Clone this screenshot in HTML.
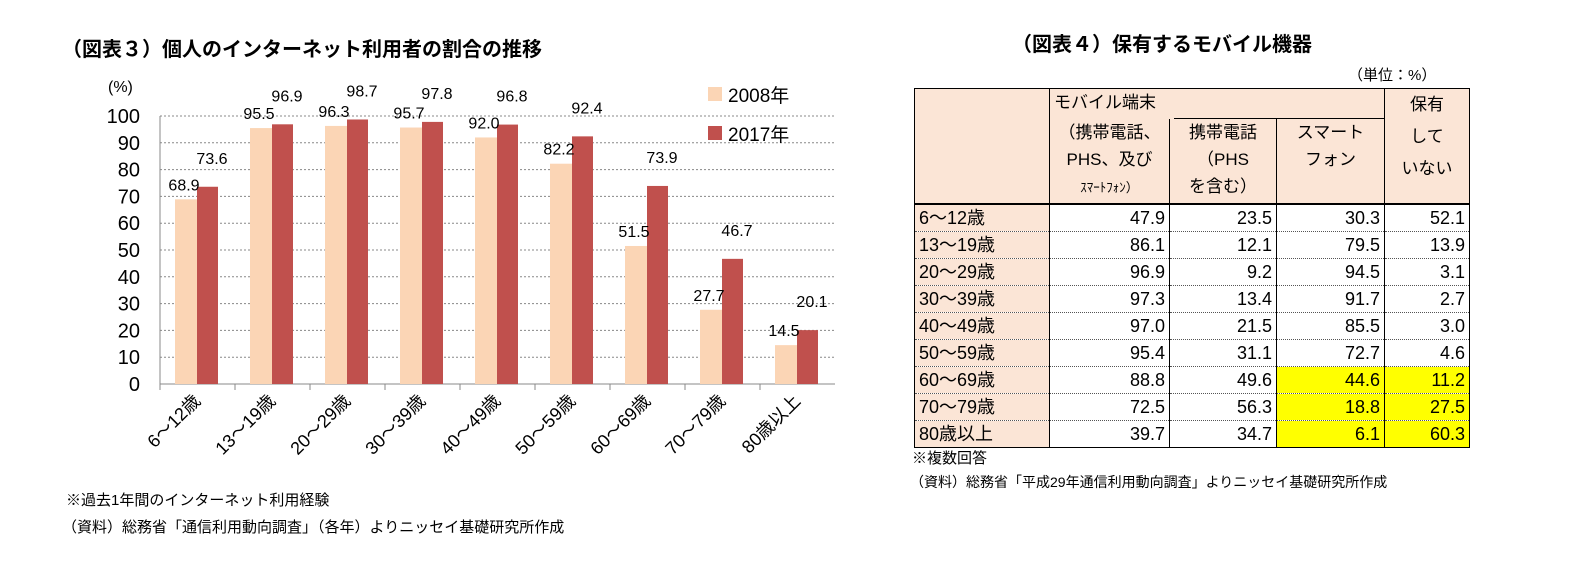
<!DOCTYPE html>
<html><head><meta charset="utf-8">
<style>
body{margin:0;width:1587px;height:564px;background:#fff;position:relative;overflow:hidden;font-family:"Liberation Sans","Noto Sans CJK JP",sans-serif;color:#000}
.abs{position:absolute;white-space:nowrap}
table{position:absolute;left:914px;top:88px;border-collapse:collapse;font-size:18px;table-layout:fixed;width:555px}
td{padding:0 4px;height:26px;border-left:1.5px solid #000;border-right:1.5px solid #000;border-bottom:1px dotted #555;text-align:right;line-height:26px;overflow:hidden;white-space:nowrap}
td.lab{background:#fbe5d6;text-align:left}
td.y{background:#ffff00}
.hd td{background:#fbe5d6;text-align:center;border-bottom:none;line-height:27px;vertical-align:top;font-size:16px}
</style></head><body>
<div class="abs" style="left:62px;top:33px;font-size:20px;font-weight:bold">（図表３）個人のインターネット利用者の割合の推移</div>
<svg width="880" height="480" style="position:absolute;left:0;top:0" id="chart"></svg>
<div class="abs" style="left:66px;top:489px;font-size:15px">※過去1年間のインターネット利用経験</div>
<div class="abs" style="left:62px;top:516px;font-size:15px">（資料）総務省「通信利用動向調査」（各年）よりニッセイ基礎研究所作成</div>

<div class="abs" style="left:1012px;top:28px;font-size:20px;font-weight:bold">（図表４）保有するモバイル機器</div>
<div class="abs" style="left:1348px;top:64px;font-size:15px">（単位：%）</div>
<table>
<colgroup><col style="width:135px"><col style="width:120px"><col style="width:107px"><col style="width:108px"><col style="width:85px"></colgroup>
<tr class="hd" style="height:30px"><td rowspan="2" style="border-bottom:2px solid #000;border-top:1.5px solid #000"></td><td colspan="3" style="text-align:left;border-top:1.5px solid #000;border-bottom:none;padding:0;">
<div style="display:flex;height:30px"><div style="width:120px;padding-left:4px;line-height:28px;white-space:nowrap;overflow:visible;font-size:17px">モバイル端末</div><div style="flex:1;border-bottom:1.5px solid #000"></div></div></td><td rowspan="2" style="border-bottom:2px solid #000;border-top:1.5px solid #000;line-height:32px;padding-top:0;font-size:17px">保有<br>して<br>いない</td></tr>
<tr class="hd" style="height:85px"><td style="border-bottom:2px solid #000;border-left:1.5px solid #000;border-right:1.5px solid #000;font-size:17px">（携帯電話、<br>PHS、及び<br><span style="font-size:13px">ｽﾏｰﾄﾌｫﾝ）</span></td><td style="border-bottom:2px solid #000;font-size:17px">携帯電話<br>（PHS<br>を含む）</td><td style="border-bottom:2px solid #000;font-size:17px">スマート<br>フォン</td></tr>
<tbody id="tb"></tbody>
</table>
<div class="abs" style="left:912px;top:447px;font-size:15px">※複数回答</div>
<div class="abs" style="left:910px;top:472px;font-size:14px">（資料）総務省「平成29年通信利用動向調査」よりニッセイ基礎研究所作成</div>

<script>
const categories=["6～12歳","13～19歳","20～29歳","30～39歳","40～49歳","50～59歳","60～69歳","70～79歳","80歳以上"];
const series2008=[68.9,95.5,96.3,95.7,92.0,82.2,51.5,27.7,14.5];
const series2017=[73.6,96.9,98.7,97.8,96.8,92.4,73.9,46.7,20.1];
const yTicks=[0,10,20,30,40,50,60,70,80,90,100];
const tableRows=["6～12歳","13～19歳","20～29歳","30～39歳","40～49歳","50～59歳","60～69歳","70～79歳","80歳以上"];
const colMobile=[47.9,86.1,96.9,97.3,97.0,95.4,88.8,72.5,39.7];
const colKeitai=[23.5,12.1,9.2,13.4,21.5,31.1,49.6,56.3,34.7];
const colSmart=[30.3,79.5,94.5,91.7,85.5,72.7,44.6,18.8,6.1];
const colNone=[52.1,13.9,3.1,2.7,3.0,4.6,11.2,27.5,60.3];

const NS="http://www.w3.org/2000/svg";
const svg=document.getElementById('chart');
const X0=160,CW=75,Y0=384,Y100=116;
const y=v=>Y0-(Y0-Y100)*v/100;
const x=i=>X0+i*CW;
function mk(t,a,p){const e=document.createElementNS(NS,t);for(const k in a)e.setAttribute(k,a[k]);(p||svg).appendChild(e);return e;}
yTicks.forEach(t=>{
  if(t>0){const g=mk('line',{x1:X0,x2:X0+9*CW,y1:y(t),y2:y(t),stroke:'#888','stroke-dasharray':'2,2'});
  
  }
  const l=mk('text',{x:140,y:y(t)+7,'text-anchor':'end','font-size':20});l.textContent=t;
  
  
});
const yl=mk('text',{x:108,y:92,'font-size':16});yl.textContent='(%)';


mk('line',{x1:X0,x2:X0,y1:Y100,y2:Y0,stroke:'#888'});
mk('line',{x1:X0,x2:X0+9*CW,y1:Y0,y2:Y0,stroke:'#888'});
categories.forEach((c,i)=>{
  mk('line',{x1:x(i),x2:x(i),y1:Y0,y2:Y0+6,stroke:'#888'});
  const b1=mk('rect',{x:x(i)+15,y:y(series2008[i]),width:22,height:Y0-y(series2008[i]),fill:'#fbd5b5'});
  
  
  const b2=mk('rect',{x:x(i)+37,y:y(series2017[i]),width:21,height:Y0-y(series2017[i]),fill:'#c0504d'});
  
  
  const t1=mk('text',{x:x(i)+24,y:y(series2008[i])-9,'text-anchor':'middle','font-size':16});t1.textContent=series2008[i].toFixed(1);
  
  
  const t2=mk('text',{x:x(i)+52,y:y(series2017[i])-23,'text-anchor':'middle','font-size':16});t2.textContent=series2017[i].toFixed(1);
  
  
  const cx=x(i)+CW/2+4,cy=402;
  const xl=mk('text',{x:cx,y:cy,'text-anchor':'end','font-size':18,transform:`rotate(-45 ${cx} ${cy})`});xl.textContent=c;
  
  
});
mk('rect',{x:708,y:87,width:14,height:14,fill:'#fbd5b5'});
const lg1=mk('text',{x:728,y:102,'font-size':19});lg1.textContent='2008年';


mk('rect',{x:708,y:126,width:14,height:14,fill:'#c0504d'});
const lg2=mk('text',{x:728,y:141,'font-size':19});lg2.textContent='2017年';



const tb=document.getElementById('tb');
tableRows.forEach((r,i)=>{
  const tr=document.createElement('tr');
  
  
  const last=i===tableRows.length-1;
  const cells=[[r,'lab'],[colMobile[i].toFixed(1),''],[colKeitai[i].toFixed(1),''],[colSmart[i].toFixed(1),i>=6?'y':''],[colNone[i].toFixed(1),i>=6?'y':'']];
  cells.forEach(([v,c])=>{const td=document.createElement('td');td.textContent=v;if(c)td.className=c;if(last)td.style.borderBottom='1.5px solid #000';tr.appendChild(td);});
  tb.appendChild(tr);
});
</script>
</body></html>
